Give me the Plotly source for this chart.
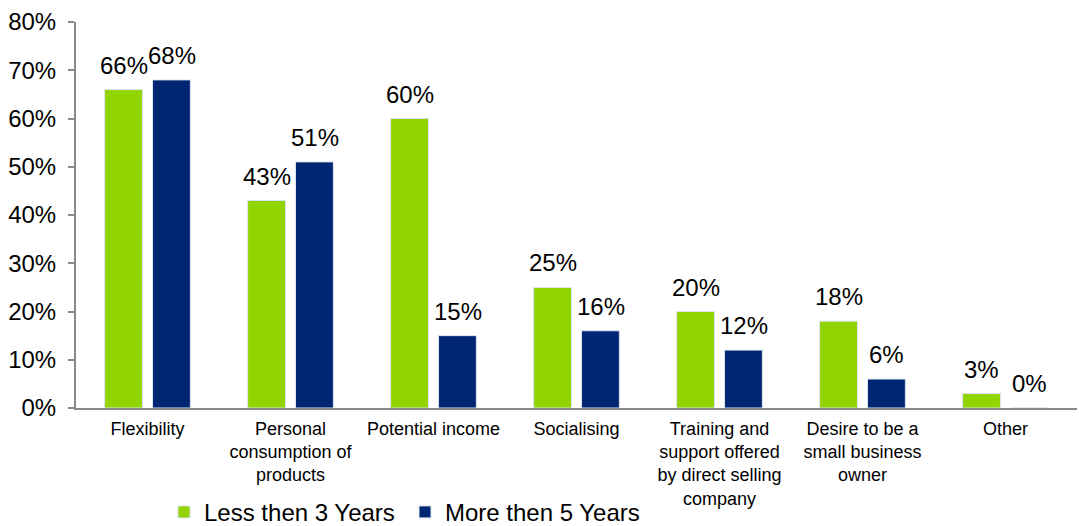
import plotly.graph_objects as go

# Reasons for joining, by tenure
categories = [
    "Flexibility",
    "Personal<br>consumption of<br>products",
    "Potential income",
    "Socialising",
    "Training and<br>support offered<br>by direct selling<br>company",
    "Desire to be a<br>small business<br>owner",
    "Other",
]
less_3_years = [66, 43, 60, 25, 20, 18, 3]
more_5_years = [68, 51, 15, 16, 12, 6, 0]

series_names = ["Less then 3 Years", "More then 5 Years"]
series_colors = ["#92D400", "#002673"]

y_ticks = [0, 10, 20, 30, 40, 50, 60, 70, 80]
y_tick_text = [f"{t}%" for t in y_ticks]

FONT = "Liberation Sans, Arial, sans-serif"

fig = go.Figure()
for name, vals, color in zip(series_names, [less_3_years, more_5_years], series_colors):
    fig.add_trace(go.Bar(
        x=categories, y=vals, name=name,
        marker=dict(color=color, line=dict(color="#DCE3F0", width=1)),
    ))

# value labels above each bar
offsets = [-24, 24]
annotations = []
for vals, dx in zip([less_3_years, more_5_years], offsets):
    for cat, v in zip(categories, vals):
        annotations.append(dict(
            x=cat, y=v, xref="x", yref="y", text=f"{v}%",
            showarrow=False, xanchor="center", yanchor="bottom",
            xshift=dx, yshift=9,
            font=dict(family=FONT, size=24, color="#000000"),
        ))

fig.update_layout(
    width=1079, height=526,
    margin=dict(l=76, r=2, t=22, b=118, autoexpand=False),
    paper_bgcolor="white", plot_bgcolor="white",
    barmode="group", bargap=0.33, bargroupgap=0.21,
    font=dict(family=FONT, color="#000000"),
    annotations=annotations,
    showlegend=True,
    legend=dict(
        orientation="h", xref="container", yref="container",
        x=0.152, xanchor="left", y=0.026, yanchor="middle",
        entrywidth=196, entrywidthmode="pixels",
        font=dict(family=FONT, size=24, color="#000000"),
        itemclick=False, itemdoubleclick=False,
    ),
    xaxis=dict(
        showline=True, linecolor="#898989", linewidth=2,
        ticks="", ticklabelstandoff=3,
        tickfont=dict(family=FONT, size=18, color="#000000"),
        showgrid=False, zeroline=False, automargin=False,
    ),
    yaxis=dict(
        range=[0, 80], tickvals=y_ticks, ticktext=y_tick_text,
        showline=True, linecolor="#898989", linewidth=2,
        ticks="outside", ticklen=6, tickcolor="#898989", tickwidth=2,
        ticklabelstandoff=7, automargin=False,
        tickfont=dict(family=FONT, size=24, color="#000000"),
        showgrid=False, zeroline=False,
    ),
)

fig.write_html("out.html")
